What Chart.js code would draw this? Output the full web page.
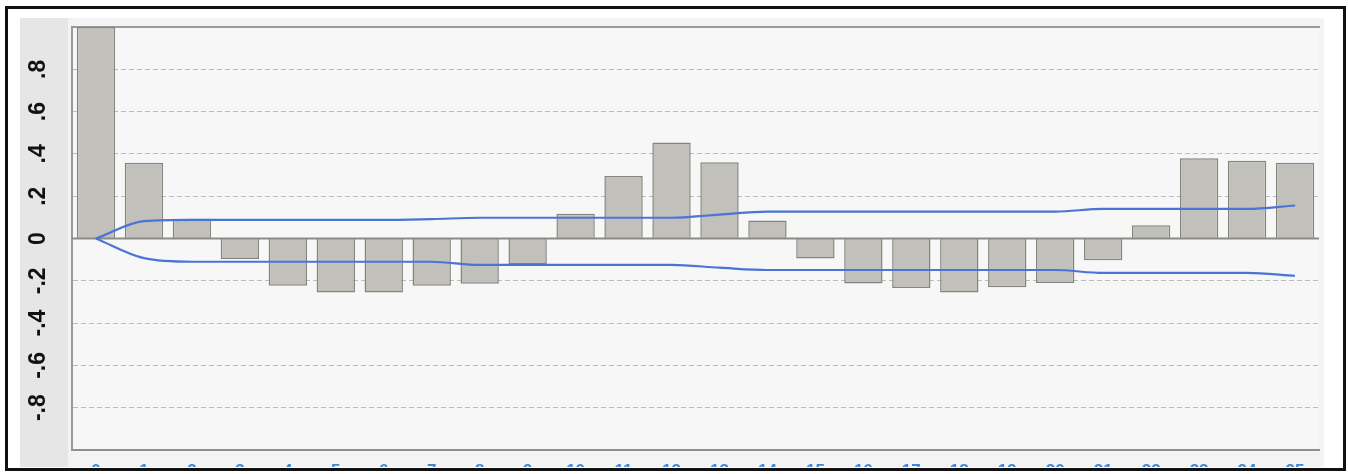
<!DOCTYPE html>
<html>
<head>
<meta charset="utf-8">
<title>Autocorrelation</title>
<script src="https://cdn.jsdelivr.net/npm/chart.js"></script>
<style>
  body { margin: 0; background: #fff; }
  #frame { position: absolute; left: 5px; top: 6px; width: 1341px; height: 465px; border: 3px solid #111; box-sizing: border-box; z-index: 2; }
  #panel { position: absolute; left: 20px; top: 18px; width: 1304px; height: 449px; overflow: hidden; background: #f3f3f3; }
  #panel canvas { display: block; }
</style>
</head>
<body>
<div id="frame"></div>
<div id="panel"><canvas id="acf" width="1304" height="470"></canvas></div>
<script>
// lags 0..25, values
const LAGS = ['0','1','2','3','4','5','6','7','8','9','10','11','12','13','14','15','16','17','18','19','20','21','22','23','24','25'];
const ACF = [1.0, 0.358, 0.093, -0.097, -0.223, -0.255, -0.255, -0.223, -0.214, -0.12,
             0.117, 0.296, 0.454, 0.36, 0.085, -0.095, -0.213, -0.234, -0.255, -0.23,
             -0.21, -0.103, 0.063, 0.379, 0.368, 0.358];
// confidence band
const UPPER = [0, 0.082, 0.088, 0.088, 0.088, 0.088, 0.088, 0.092, 0.098, 0.098,
               0.098, 0.098, 0.098, 0.113, 0.127, 0.127, 0.127, 0.127, 0.127, 0.127,
               0.127, 0.14, 0.14, 0.14, 0.14, 0.156];
const LOWER = [0, -0.093, -0.11, -0.11, -0.11, -0.11, -0.11, -0.11, -0.125, -0.125,
               -0.125, -0.125, -0.125, -0.138, -0.149, -0.149, -0.149, -0.149, -0.149, -0.149,
               -0.149, -0.163, -0.163, -0.163, -0.163, -0.176];
const Y_MIN = -1, Y_MAX = 1, Y_STEP = 0.2;

function fmt(v) {
  const r = Math.round(v * 10) / 10;
  if (r === 0) return '0';
  return r.toFixed(1).replace('0.', '.');
}

const bgPlugin = {
  id: 'bg',
  beforeDraw(chart) {
    const { ctx, chartArea: a, width, height } = chart;
    ctx.save();
    ctx.fillStyle = '#f3f3f3';
    ctx.fillRect(0, 0, width, height);
    ctx.fillStyle = '#e6e6e6';
    ctx.fillRect(0, 0, 48, height);
    ctx.fillStyle = '#f7f7f7';
    ctx.fillRect(a.left, a.top, a.right - a.left, a.bottom - a.top);
    ctx.restore();
  }
};

const zeroLine = {
  id: 'zeroLine',
  afterDatasetDraw(chart, args) {
    if (args.index !== 0) return;
    const { ctx, chartArea: a } = chart;
    const y = chart.scales.y.getPixelForValue(0);
    ctx.save();
    ctx.strokeStyle = '#8c8c87';
    ctx.lineWidth = 2;
    ctx.beginPath();
    ctx.moveTo(a.left, y);
    ctx.lineTo(a.right, y);
    ctx.stroke();
    ctx.restore();
  }
};

new Chart(document.getElementById('acf'), {
  data: {
    labels: LAGS,
    datasets: [
      { type: 'bar', data: ACF, order: 2, backgroundColor: '#c1c0ba', borderColor: '#85857f',
        borderWidth: 1.5, barPercentage: 0.8, categoryPercentage: 1 },
      { type: 'line', data: UPPER, order: 1, borderColor: '#4a74d6', borderWidth: 2.2,
        pointRadius: 0, fill: false, cubicInterpolationMode: 'monotone' },
      { type: 'line', data: LOWER, order: 1, borderColor: '#4a74d6', borderWidth: 2.2,
        pointRadius: 0, fill: false, cubicInterpolationMode: 'monotone' }
    ]
  },
  options: {
    responsive: false,
    animation: false,
    layout: { padding: { left: 0, top: 9, right: 5, bottom: 0 } },
    plugins: { legend: { display: false }, tooltip: { enabled: false } },
    scales: {
      x: {
        type: 'category',
        grid: { display: false, drawTicks: false },
        border: { color: '#8f8f8f', width: 2 },
        ticks: { color: '#3f86d8', padding: 11, autoSkip: false, maxRotation: 0,
                 font: { family: '"Liberation Sans", Arial, sans-serif', size: 17, weight: 'bold' } },
        afterFit(s) { s.height = 38; s.paddingLeft = 0; s.paddingRight = 0; }
      },
      x2: {
        type: 'category',
        position: 'top',
        grid: { display: false, drawTicks: false },
        border: { color: '#999999', width: 2 },
        ticks: { display: false },
        afterFit(s) { s.height = 0; }
      },
      y: {
        min: Y_MIN, max: Y_MAX,
        grid: { drawTicks: false, lineWidth: 1,
                color: c => (c.tick && Math.abs(c.tick.value) < 1e-9) ? 'rgba(0,0,0,0)' : '#bdbdbd' },
        border: { color: '#999999', width: 2, dash: [5, 3] },
        afterBuildTicks(s) { s.ticks = s.ticks.filter(t => Math.abs(t.value) < 0.95); },
        ticks: {
          stepSize: Y_STEP, autoSkip: false, minRotation: 90, maxRotation: 90,
          crossAlign: 'center', padding: 20, color: '#111',
          font: { family: '"Liberation Sans", Arial, sans-serif', size: 23, weight: 'bold' },
          callback: v => fmt(v)
        },
        afterFit(s) { s.width = 52; s.paddingTop = 0; s.paddingBottom = 0; }
      }
    }
  },
  plugins: [bgPlugin, zeroLine]
});
</script>
</body>
</html>
